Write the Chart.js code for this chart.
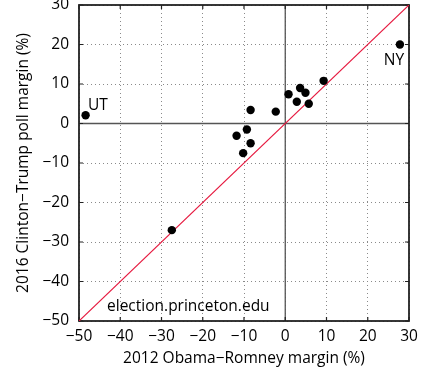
<!DOCTYPE html>
<html>
<head>
  <title>Clinton-Trump vs Obama-Romney</title>
  <script src="https://cdn.jsdelivr.net/npm/chart.js"></script>
  <style>
    body { margin: 0; background: #fff; }
  </style>
</head>
<body>
  <canvas id="scatterChart" width="439" height="373"></canvas>

  <script>
    // state margins
    const obamaRomney = [-48.4, -27.5, -11.8, -10.2, -9.3, -8.4, -8.4, -2.3, 0.8, 2.8, 3.6, 4.9, 5.7, 9.3, 27.8];
    const clintonTrump = [2.1, -27.0, -3.1, -7.5, -1.5, -5.0, 3.4, 3.0, 7.4, 5.5, 9.0, 7.8, 5.0, 10.8, 20.0];
    const diagonal = [-50, 30];
    const axisMin = -50, axisMax = 30, axisStep = 10;
    const noteTexts = ['UT', 'NY', 'election.princeton.edu'];

    const FONT = '"Open Sans", "Noto Sans", sans-serif';
    const minus = v => String(v).replace('-', '\u2212');

    // frame, zero lines and inward ticks
    const framePlugin = {
      id: 'frame',
      beforeDatasetsDraw(chart) {
        const {ctx, chartArea: a, scales: {x, y}} = chart;
        ctx.save();
        ctx.strokeStyle = '#555';
        ctx.lineWidth = 1.3;
        ctx.beginPath();
        ctx.moveTo(x.getPixelForValue(0), a.top);
        ctx.lineTo(x.getPixelForValue(0), a.bottom);
        ctx.moveTo(a.left, y.getPixelForValue(0));
        ctx.lineTo(a.right, y.getPixelForValue(0));
        ctx.stroke();

        ctx.strokeStyle = '#222';
        ctx.lineWidth = 1.2;
        ctx.beginPath();
        x.ticks.forEach(t => {
          const px = x.getPixelForValue(t.value);
          ctx.moveTo(px, a.bottom); ctx.lineTo(px, a.bottom - 4);
          ctx.moveTo(px, a.top); ctx.lineTo(px, a.top + 4);
        });
        y.ticks.forEach(t => {
          const py = y.getPixelForValue(t.value);
          ctx.moveTo(a.left, py); ctx.lineTo(a.left + 4, py);
          ctx.moveTo(a.right, py); ctx.lineTo(a.right - 4, py);
        });
        ctx.stroke();

        ctx.lineWidth = 1.8;
        ctx.strokeRect(a.left, a.top, a.right - a.left, a.bottom - a.top);
        ctx.restore();
      }
    };

    const notesPlugin = {
      id: 'notes',
      afterDatasetsDraw(chart) {
        const {ctx, scales: {x, y}} = chart;
        ctx.save();
        ctx.fillStyle = '#000';
        ctx.font = '15.5px ' + FONT;
        ctx.textBaseline = 'alphabetic';
        ctx.textAlign = 'left';
        ctx.fillText(noteTexts[0], x.getPixelForValue(-47.8), y.getPixelForValue(3.4));
        ctx.textAlign = 'right';
        ctx.fillText(noteTexts[1], x.getPixelForValue(28.8), y.getPixelForValue(14.8));
        ctx.textAlign = 'left';
        ctx.fillText(noteTexts[2], x.getPixelForValue(-43.2), y.getPixelForValue(-47.5));
        ctx.restore();
      }
    };

    const gridOpts = { color: '#8a8a8a', lineWidth: 1, drawTicks: false };
    const borderOpts = { display: false, dash: [1, 3] };

    new Chart(document.getElementById('scatterChart'), {
      type: 'scatter',
      data: {
        datasets: [
          {
            label: 'states',
            data: obamaRomney.map((v, i) => ({ x: v, y: clintonTrump[i] })),
            backgroundColor: '#000',
            borderWidth: 0,
            pointRadius: 4.2,
            order: 0
          },
          {
            type: 'line',
            label: 'y = x',
            data: diagonal.map(v => ({ x: v, y: v })),
            borderColor: '#e6193f',
            borderWidth: 1.2,
            pointRadius: 0,
            fill: false,
            order: 1
          }
        ]
      },
      options: {
        responsive: false,
        animation: false,
        layout: { padding: { left: 0, right: 30, top: 5, bottom: 0 } },
        plugins: { legend: { display: false }, tooltip: { enabled: false } },
        scales: {
          x: {
            type: 'linear',
            min: axisMin, max: axisMax,
            ticks: { stepSize: axisStep, padding: 6, color: '#000', font: { family: FONT, size: 15.5 }, callback: minus },
            grid: gridOpts,
            border: borderOpts,
            title: { display: true, text: '2012 Obama\u2212Romney margin (%)', color: '#000', font: { family: FONT, size: 15.5 }, padding: { top: 0, bottom: 5 } },
            afterFit(s) { s.height = 52; s.paddingLeft = 0; s.paddingRight = 0; }
          },
          y: {
            type: 'linear',
            min: axisMin, max: axisMax,
            ticks: { stepSize: axisStep, padding: 10, color: '#000', font: { family: FONT, size: 15.5 }, callback: minus },
            grid: gridOpts,
            border: borderOpts,
            title: { display: true, text: '2016 Clinton\u2212Trump poll margin (%)', color: '#000', font: { family: FONT, size: 15.5 }, padding: { top: 14, bottom: 0 } },
            afterFit(s) { s.width = 79; s.paddingTop = 0; s.paddingBottom = 0; }
          }
        }
      },
      plugins: [framePlugin, notesPlugin]
    });
  </script>
</body>
</html>
